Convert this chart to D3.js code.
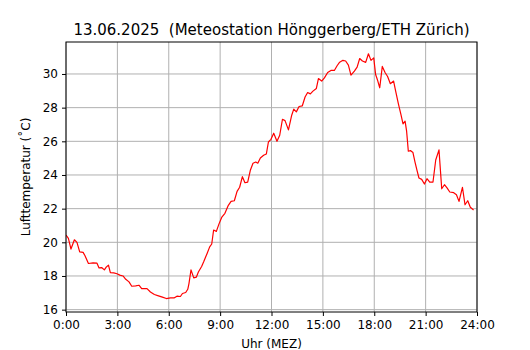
<!DOCTYPE html>
<html>
<head>
<meta charset="utf-8">
<script src="https://cdn.jsdelivr.net/npm/d3@7"></script>
<style>
  body { margin: 0; background: #fff; }
  svg { display: block; font-family: "DejaVu Sans", sans-serif; }
</style>
</head>
<body>
<div id="plotDiv"></div>
<script>
// time of each reading (hours since midnight) and air temperature (°C)
const hours = [
  0.00, 0.14, 0.29, 0.49, 0.64, 0.80, 1.00, 1.11, 1.31, 1.58, 1.81, 1.93, 2.08, 2.24, 2.36, 2.48, 2.59, 2.79, 2.98,
  3.14, 3.33, 3.49, 3.68, 3.84, 4.07, 4.26, 4.42, 4.73, 4.93, 5.16, 5.40, 5.63, 5.86, 6.10, 6.33, 6.48, 6.68, 6.80,
  6.99, 7.11, 7.18, 7.30, 7.46, 7.61, 7.73, 7.92, 8.04, 8.24, 8.39, 8.51, 8.62, 8.78, 8.93, 9.09, 9.28, 9.48, 9.64,
  9.83, 9.99, 10.14, 10.30, 10.45, 10.61, 10.77, 10.92, 11.08, 11.20, 11.35, 11.54, 11.70, 11.82, 11.97, 12.13,
  12.32, 12.48, 12.64, 12.79, 12.99, 13.18, 13.30, 13.45, 13.61, 13.80, 13.96, 14.11, 14.27, 14.42, 14.62, 14.74,
  14.93, 15.09, 15.28, 15.47, 15.67, 15.83, 15.98, 16.17, 16.33, 16.49, 16.64, 16.84, 17.00, 17.15, 17.31, 17.50,
  17.66, 17.81, 17.97, 18.08, 18.20, 18.32, 18.47, 18.63, 18.78, 18.94, 19.13, 19.25, 19.41, 19.56, 19.68, 19.80,
  19.89, 19.99, 20.11, 20.26, 20.38, 20.50, 20.61, 20.77, 20.93, 21.08, 21.24, 21.43, 21.59, 21.78, 21.94, 22.10,
  22.25, 22.41, 22.64, 22.80, 22.95, 23.15, 23.30, 23.46, 23.61, 23.80
];
const temps = [
  20.43, 20.23, 19.60, 20.15, 20.00, 19.43, 19.40, 19.20, 18.74, 18.78, 18.76, 18.48, 18.50, 18.36, 18.54, 18.64, 18.20, 18.18, 18.13,
  18.05, 18.00, 17.80, 17.65, 17.39, 17.41, 17.45, 17.25, 17.25, 17.05, 16.90, 16.82, 16.74, 16.66, 16.70, 16.70, 16.80, 16.78, 16.96,
  17.02, 17.21, 17.55, 18.36, 17.89, 17.93, 18.24, 18.56, 18.84, 19.34, 19.73, 19.90, 20.73, 20.65, 21.08, 21.48, 21.72, 22.20, 22.43,
  22.47, 23.03, 23.27, 23.90, 23.54, 23.58, 24.30, 24.70, 24.77, 24.70, 25.01, 25.17, 25.25, 25.96, 26.12, 26.48,
  26.00, 26.36, 27.31, 27.23, 26.68, 27.55, 27.91, 27.75, 28.07, 28.11, 28.63, 28.90, 28.82, 28.98, 29.14, 29.73,
  29.58, 29.77, 30.09, 30.21, 30.21, 30.49, 30.70, 30.81, 30.77, 30.53, 29.93, 30.17, 30.41, 30.92, 30.77, 30.69,
  31.20, 30.81, 30.96, 29.97, 29.61, 29.18, 30.45, 30.09, 29.85, 29.42, 29.58, 28.98, 28.23, 27.59, 27.04, 27.20,
  26.60, 25.41, 25.45, 25.33, 24.77, 24.26, 23.82, 23.74, 23.46, 23.78, 23.58, 23.58, 24.89, 25.49, 23.18, 23.42,
  23.23, 22.99, 22.95, 22.83, 22.43, 23.27, 22.23, 22.47, 22.08, 21.92
];

const xTicks = [0, 3, 6, 9, 12, 15, 18, 21, 24];
const xTickLabels = ["0:00", "3:00", "6:00", "9:00", "12:00", "15:00", "18:00", "21:00", "24:00"];
const yTicks = [16, 18, 20, 22, 24, 26, 28, 30];

const titleText = "13.06.2025  (Meteostation Hönggerberg/ETH Zürich)";

const W = 530, H = 350;
const margin = {top: 42, right: 53, bottom: 38, left: 66};
const w = W - margin.left - margin.right;
const h = H - margin.top - margin.bottom;

const svg = d3.select("#plotDiv").append("svg")
    .attr("width", W)
    .attr("height", H);

svg.append("rect").attr("width", W).attr("height", H).attr("fill", "#fff");

const g = svg.append("g")
    .attr("transform", `translate(${margin.left},${margin.top})`);

// scales
const x = d3.scaleLinear().domain([0, 24]).range([0, w]);
const y = d3.scaleLinear().domain([15.86, 31.9]).range([h, 0]);

// grid
g.append("g").selectAll("line").data(xTicks).enter().append("line")
    .attr("x1", d => x(d)).attr("x2", d => x(d))
    .attr("y1", 0).attr("y2", h)
    .attr("stroke", "#b0b0b0").attr("stroke-width", 1);
g.append("g").selectAll("line").data(yTicks).enter().append("line")
    .attr("x1", 0).attr("x2", w)
    .attr("y1", d => y(d)).attr("y2", d => y(d))
    .attr("stroke", "#b0b0b0").attr("stroke-width", 1);

// line
svg.append("clipPath").attr("id", "clip")
  .append("rect").attr("width", w).attr("height", h);

const line = d3.line()
    .x((d, i) => x(hours[i]))
    .y(d => y(d));

g.append("path")
    .datum(temps)
    .attr("clip-path", "url(#clip)")
    .attr("fill", "none")
    .attr("stroke", "#ff0000")
    .attr("stroke-width", 1.2)
    .attr("stroke-linejoin", "round")
    .attr("d", line);

// axes
const xAxis = d3.axisBottom(x)
    .tickValues(xTicks)
    .tickFormat((d, i) => xTickLabels[i])
    .tickSize(4).tickSizeOuter(0).tickPadding(4);
const yAxis = d3.axisLeft(y)
    .tickValues(yTicks)
    .tickSize(4).tickSizeOuter(0).tickPadding(4);

const gx = g.append("g").attr("transform", `translate(0,${h})`).call(xAxis);
const gy = g.append("g").call(yAxis);
[gx, gy].forEach(a => {
  a.select(".domain").remove();
  a.selectAll("line").attr("stroke", "#000").attr("stroke-width", 1);
  a.selectAll("text").attr("fill", "#000")
    .style("font-family", "DejaVu Sans").style("font-size", "12px");
});

// spines
g.append("rect")
    .attr("width", w).attr("height", h)
    .attr("fill", "none").attr("stroke", "#000").attr("stroke-width", 1);

// title and labels
svg.append("text")
    .attr("x", margin.left + w / 2)
    .attr("y", 35)
    .attr("text-anchor", "middle")
    .style("font-size", "15px")
    .style("white-space", "pre")
    .text(titleText);

svg.append("text")
    .attr("x", margin.left + w / 2)
    .attr("y", 348)
    .attr("text-anchor", "middle")
    .style("font-size", "12px")
    .text("Uhr (MEZ)");

svg.append("text")
    .attr("transform", `translate(30,${margin.top + h / 2}) rotate(-90)`)
    .attr("text-anchor", "middle")
    .style("font-size", "12px")
    .text("Lufttemperatur (˚C)");
</script>
</body>
</html>
